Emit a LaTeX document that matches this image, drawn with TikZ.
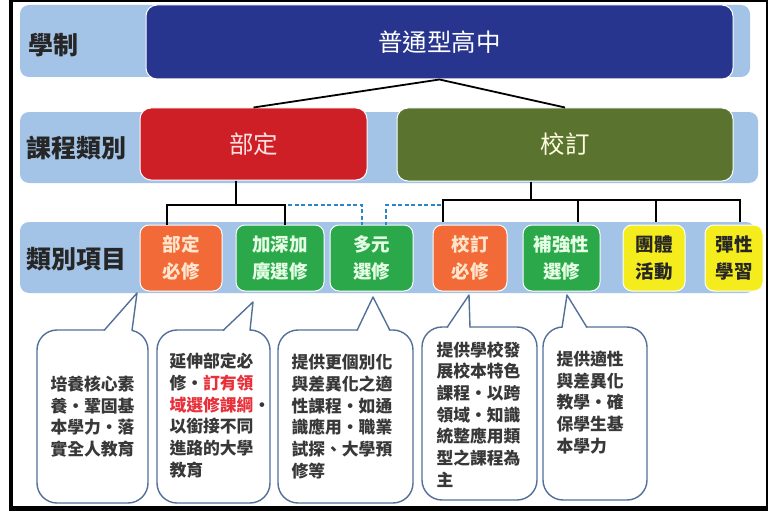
\documentclass[tikz,border=0pt]{standalone}
\usepackage{fontspec}
\newfontfamily\cjk{Noto Sans CJK TC}
\newcommand\twcm{・}
\definecolor{bandblue}{HTML}{A3C4E6}
\definecolor{navy}{HTML}{27358F}
\definecolor{redbox}{HTML}{CF1F26}
\definecolor{olive}{HTML}{5A7430}
\definecolor{orangebox}{HTML}{F26A38}
\definecolor{greenbox}{HTML}{2BA84A}
\definecolor{yellowbox}{HTML}{F5EC1E}
\definecolor{bubbleline}{HTML}{52709A}
\definecolor{dashblue}{HTML}{2C86C6}
\definecolor{txtgray}{HTML}{383838}
\definecolor{txtred}{HTML}{E8303A}
\begin{document}
\begin{tikzpicture}[x=1pt,y=-1pt,
  band/.style={fill=bandblue, rounded corners=9pt},
  rowlabel/.style={font=\cjk\bfseries\fontsize{25}{25}\selectfont, text=black!85, inner sep=0pt},
  mainbox/.style={rounded corners=11pt, draw=white, line width=1pt, inner sep=0pt,
     font=\cjk\fontsize{24.5}{24.5}\selectfont},
  item/.style={rounded corners=9pt, draw=white, line width=1pt, align=center, inner sep=0pt,
     minimum height=66pt, font=\cjk\bfseries\fontsize{18.5}{27}\selectfont},
  orangeitem/.style={item, fill=orangebox, text=orange!20!white},
  greenitem/.style={item, fill=greenbox, text=green!10!white},
  yellowitem/.style={item, fill=yellowbox, text=black!85},
  conn/.style={draw=black, line width=1.8pt},
  dconn/.style={draw=dashblue, line width=1.6pt, dash pattern=on 4pt off 2.5pt},
  bubble/.style={draw=bubbleline, line width=1.4pt, fill=white, rounded corners=20pt,
     minimum height=173pt, inner sep=0pt},
  btext/.style={anchor=west, align=left, inner sep=0pt, text=txtgray,
     font=\cjk\bfseries\fontsize{16.8}{21.7}\selectfont},
  ptr/.style={draw=bubbleline, line width=1.4pt, fill=white, line join=round}
]
\useasboundingbox (0,0) rectangle (769,519);
\fill[white] (0,0) rectangle (769,519);

% bands
\fill[band] (20,5) rectangle (750,77);
\fill[band] (20,112) rectangle (758,183);
\fill[band] (20,222) rectangle (755,293);

% row labels
\node[rowlabel] (l1) at (53,45) {學制};
\node[rowlabel] (l2) at (77,148) {課程類別};
\node[rowlabel] (l3) at (77,259) {類別項目};

% main boxes
\node[mainbox, fill=navy, text=white, minimum width=587pt, minimum height=74pt] (hs) at (439.5,42) {普通型高中};
\node[mainbox, fill=redbox, text=red!12!white, minimum width=227pt, minimum height=72pt] (bd) at (253.5,144) {部定};
\node[mainbox, fill=olive, text=yellow!12!white, minimum width=336pt, minimum height=73pt] (xd) at (565,144.5) {校訂};

% items
\node[orangeitem, minimum width=82pt] (a1) at (181,258) {部定\\必修};
\node[greenitem, minimum width=88pt] (a2) at (280,258) {加深加\\廣選修};
\node[greenitem, minimum width=83pt] (a3) at (371.5,258) {多元\\選修};
\node[orangeitem, minimum width=74pt] (a4) at (470,258) {校訂\\必修};
\node[greenitem, minimum width=77pt] (a5) at (561.5,258) {補強性\\選修};
\node[yellowitem, minimum width=62pt] (a6) at (654,258) {團體\\活動};
\node[yellowitem, minimum width=58pt] (a7) at (734,258) {彈性\\學習};

% junction points
\coordinate (jl) at (236,205);
\coordinate (jr) at (531,200);
\coordinate (dl) at (362,205);
\coordinate (dr) at (386,205);

% dashed connectors to 多元選修
\draw[dconn] (288,205) -- (dl) -- (dl |- a3.north);
\draw[dconn] (441,205) -- (dr) -- (dr |- a3.north);

% solid connectors
\draw[conn] (bd.north) -- (hs.south) -- (xd.north);
\draw[conn] (bd.south -| jl) -- (jl);
\draw[conn] ([xshift=-14pt]a1.north) |- (285,205) -- (285,225);
\draw[conn] (xd.south -| jr) -- (jr);
\draw[conn] (443,222) |- (740,200) -- (740,222);
\draw[conn] (578,200) -- (578,222);
\draw[conn] (656,200) -- (656,222);

% bubbles
\node[bubble, minimum width=111pt] (b1) at (92.5,416.5) {};
\node[bubble, minimum width=113pt] (b2) at (213.5,416.5) {};
\node[bubble, minimum width=135pt] (b3) at (345.5,416.5) {};
\node[bubble, minimum width=115pt] (b4) at (479.5,413.5) {};
\node[bubble, minimum width=104pt] (b5) at (595,413.5) {};

\coordinate (p1) at (137,293);
\coordinate (p2) at (253,302);
\coordinate (p3) at (373,297);
\coordinate (p4) at (469,295);
\coordinate (p5) at (567,295);

\fill[white] (104,332) -- (p1) -- (131,332) -- cycle;
\draw[ptr] (104,330.5) -- (p1) -- (132,330.5);
\fill[white] (224,332) -- (p2) -- (249,332) -- cycle;
\draw[ptr] (223,330.5) -- (p2) -- (250,330.5);
\fill[white] (358,332) -- (p3) -- (389,332) -- cycle;
\draw[ptr] (357,330.5) -- (p3) -- (390,330.5);
\fill[white] (448,329) -- (p4) -- (469,329) -- cycle;
\draw[ptr] (447,327.5) -- (p4) -- (470,327.5);
\fill[white] (563,329) -- (p5) -- (586,329) -- cycle;
\draw[ptr] (562,327.5) -- (p5) -- (587,327.5);

% bubble texts
\node[btext] (t1) at ([xshift=14pt]b1.west) {培養核心素\\養\twcm 鞏固基\\本學力\twcm 落\\實全人教育};
\node[btext] (t2) at ([xshift=13pt,yshift=1pt]b2.west) {延伸部定必\\修\twcm{\color{txtred}訂有領}\\{\color{txtred}域選修課綱}\twcm\\以銜接不同\\進路的大學\\教育};
\node[btext] (t3) at ([xshift=14pt]b3.west) {提供更個別化\\與差異化之適\\性課程\twcm 如通\\識應用\twcm 職業\\試探、大學預\\修等};
\node[btext] (t4) at ([xshift=15pt,yshift=-1pt]b4.west) {提供學校發\\展校本特色\\課程\twcm 以跨\\領域\twcm 知識\\統整應用類\\型之課程為\\主};
\node[btext] (t5) at ([xshift=14pt,yshift=11pt]b5.west) {提供適性\\與差異化\\教學\twcm 確\\保學生基\\本學力};

% frame
\draw[black, line width=2pt] (11,1.5) rectangle (766.5,507);
\draw[black, line width=4pt] (11,0) -- (11,509);
\draw[black, line width=5pt] (9,508) -- (768,508);
\end{tikzpicture}
\end{document}
